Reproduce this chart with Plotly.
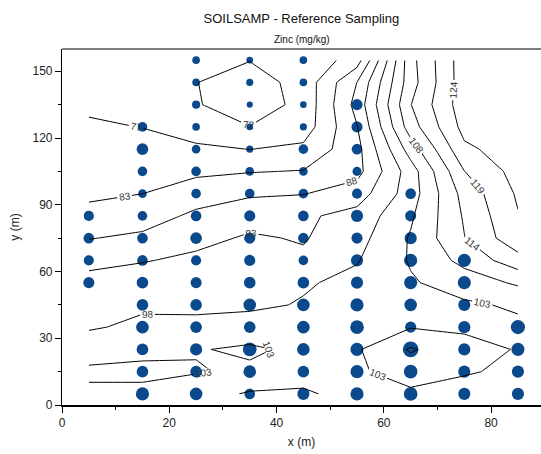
import plotly.graph_objects as go

# Sampling columns (m) and the first sample height in each column
column_x = [5, 15, 25, 35, 45, 55, 65, 75, 85]
column_y_start = [55, 5, 5, 5, 5, 5, 5, 5, 5]
sample_spacing = 10

# Zinc (mg/kg) at each sample, listed bottom to top for every column
zinc_col_05 = [92.5, 87.5, 90, 87.5]
zinc_col_15 = [102.5, 95, 95, 100, 95, 95, 90, 90, 85, 80, 85, 95, 85]
zinc_col_25 = [100, 95, 97.5, 95, 95, 92.5, 87.5, 95, 90, 85, 85, 80, 75, 77.5, 75, 75]
zinc_col_35 = [90, 100, 105, 95, 100, 95, 92.5, 92.5, 92.5, 85, 80, 72.5, 70, 67.5, 72.5, 70]
zinc_col_45 = [97.5, 95, 100, 100, 100, 95, 85, 90, 90, 85, 80, 85, 72.5, 70, 75, 75]
zinc_col_55 = [102.5, 102.5, 102.5, 105, 102.5, 97.5, 97.5, 92.5, 97.5, 87.5, 82.5, 90, 92.5, 92.5]
zinc_col_65 = [105, 105, 115, 92.5, 100, 102.5, 102.5, 97.5, 92.5, 90]
zinc_col_75 = [97.5, 97.5, 97.5, 97.5, 97.5, 102.5, 102.5]
zinc_col_85 = [97.5, 97.5, 102.5, 107.5]
zinc_columns = [zinc_col_05, zinc_col_15, zinc_col_25, zinc_col_35, zinc_col_45,
                zinc_col_55, zinc_col_65, zinc_col_75, zinc_col_85]

# Interpolated zinc surface (mg/kg) on the sampling grid, rows from y=5 to y=155
surface_x = [5, 15, 25, 35, 45, 55, 65, 75, 85]
surface_y = [5, 15, 25, 35, 45, 55, 65, 75, 85, 95, 105, 115, 125, 135, 145, 155]
surface_zinc = [
    [102.5, 102.5, 100.5, 97.5, 97.25, 100.25, 102.25, 100.25, 98.75],
    [104, 104, 103.6, 102.5, 100.5, 102.5, 105.75, 104, 101.75],
    [101.5, 102.5, 103, 104, 102.25, 102.75, 109, 105, 103],
    [97.5, 99.25, 99.75, 100.75, 100.75, 101.25, 103, 102.5, 102.25],
    [96, 97.25, 96.75, 97, 98.5, 100.25, 101.5, 102.5, 104],
    [94.5, 95.4, 95.4, 96.5, 97.5, 99.5, 102.75, 105.75, 109.25],
    [91.5, 92.6, 93.9, 95.75, 93.8, 97.75, 103.75, 110, 116.75],
    [87.5, 88.75, 91.5, 93.5, 92.5, 96.25, 103.75, 113.5, 122.5],
    [84, 85.25, 88.75, 91, 92, 94.75, 102.5, 114.25, 123.75],
    [81.6, 82.5, 85.25, 87, 87.5, 90.25, 100.75, 115.5, 124.75],
    [80.1, 80.25, 81.5, 82.25, 82.75, 86, 100.75, 118.75, 126],
    [79, 78.75, 78.25, 77.25, 78.5, 86, 105.75, 123, 126.75],
    [77.9, 77.25, 74.75, 72.25, 74.5, 87.5, 111.25, 125.75, 127],
    [76.6, 76, 72.5, 69.5, 73.5, 89.5, 113.5, 127, 127],
    [75.9, 75.5, 72.25, 69.75, 74, 87.75, 111.5, 127, 127],
    [75.6, 75.25, 73, 72.3, 73, 80, 112, 127, 127],
]

# Flatten the sample table into point lists
sample_x, sample_y, sample_zinc = [], [], []
for cx, y0, vals in zip(column_x, column_y_start, zinc_columns):
    for i, v in enumerate(vals):
        sample_x.append(cx)
        sample_y.append(y0 + i * sample_spacing)
        sample_zinc.append(v)

# Marker diameter grows with zinc concentration
marker_diam = [(v - 37) / 5 for v in sample_zinc]

FONT = "Liberation Sans, Arial, sans-serif"
X_RANGE = [0, 89.3]
Y_RANGE = [0, 160]

fig = go.Figure()

fig.add_trace(go.Scatter(
    x=sample_x, y=sample_y, mode="markers",
    marker=dict(size=marker_diam, color="#0a4a8c", opacity=1, line=dict(width=0)),
    customdata=sample_zinc,
    hovertemplate="x=%{x} m<br>y=%{y} m<br>Zn=%{customdata} mg/kg<extra></extra>",
    showlegend=False,
))

# Contours live on an overlaying pair of axes so they draw above the points
fig.add_trace(go.Contour(
    x=surface_x, y=surface_y, z=surface_zinc, xaxis="x2", yaxis="y2",
    contours=dict(coloring="lines", start=72.14, end=130, size=5.19,
                  showlabels=True,
                  labelfont=dict(family=FONT, size=10, color="#333333"),
                  labelformat=".0f"),
    colorscale=[[0, "black"], [1, "black"]],
    line=dict(width=1, smoothing=0),
    showscale=False, hoverinfo="skip",
))

fig.update_layout(
    width=541, height=454,
    margin=dict(l=62, r=0, t=49, b=49),
    paper_bgcolor="white", plot_bgcolor="white",
    font=dict(family=FONT, size=12, color="#222222"),
    showlegend=False,
    title=dict(text="SOILSAMP - Reference Sampling", x=0.557, xanchor="center",
               y=0.96, yanchor="middle", font=dict(size=13, color="#111111")),
    annotations=[dict(text="Zinc (mg/kg)", xref="paper", yref="paper",
                      x=0.5, y=1.0, yanchor="middle", yshift=10, showarrow=False,
                      font=dict(size=10, color="#111111"))],
    shapes=[dict(type="line", xref="paper", yref="paper", x0=0, x1=1, y0=1, y1=1,
                 line=dict(color="black", width=1.2))],
    xaxis=dict(range=X_RANGE, tickmode="linear", tick0=0, dtick=20,
               ticks="outside", ticklen=6, tickwidth=1, tickcolor="black",
               minor=dict(dtick=10, ticks="outside", ticklen=3, tickcolor="black"),
               showline=True, linecolor="black", linewidth=2,
               showgrid=False, zeroline=False,
               title=dict(text="x (m)", font=dict(size=12), standoff=8)),
    yaxis=dict(range=Y_RANGE, tickmode="linear", tick0=0, dtick=30,
               ticks="outside", ticklen=6, tickwidth=1, tickcolor="black",
               minor=dict(dtick=15, ticks="outside", ticklen=3, tickcolor="black"),
               showline=True, linecolor="black", linewidth=1.2,
               showgrid=False, zeroline=False,
               title=dict(text="y (m)", font=dict(size=12), standoff=10)),
    xaxis2=dict(overlaying="x", range=X_RANGE, visible=False),
    yaxis2=dict(overlaying="y", range=Y_RANGE, visible=False),
)

fig.write_html("out.html")
